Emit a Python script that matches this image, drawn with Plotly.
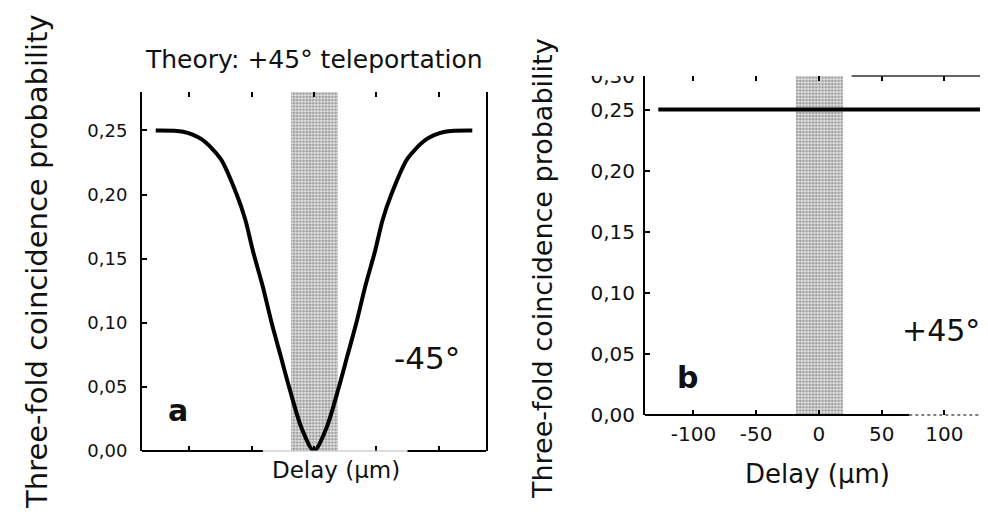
import plotly.graph_objects as go

# ---------------- data ----------------
# panel a: theory curve (-45°)
delay_a = [-127, -105, -90, -75, -62, -55, -49, -41, -34, -27, -20, -10, 0,
           10, 20, 27, 34, 41, 49, 55, 62, 75, 90, 105, 127]
prob_a = [0.25, 0.249, 0.243, 0.228, 0.20, 0.18, 0.156, 0.128, 0.10, 0.075, 0.05, 0.018, 0.0,
          0.018, 0.05, 0.075, 0.10, 0.128, 0.156, 0.18, 0.20, 0.228, 0.243, 0.249, 0.25]
# panel b: theory curve (+45°)
delay_b = [-128, 130]
prob_b = [0.25, 0.25]
# shaded band (delay range)
band = [-18.5, 19]
# ticks
ytick_vals = [0, 0.05, 0.10, 0.15, 0.20, 0.25]
ytick_text = ["0,00", "0,05", "0,10", "0,15", "0,20", "0,25"]
xtick_vals = [-100, -50, 0, 50, 100]
xtick_text = ["-100", "-50", "0", "50", "100"]

W, H = 988, 512
OFF = 8  # page body margin
FONT = "DejaVu Sans"
INK = "#111111"

def px(x):
    return (x - OFF) / W

def py(y):
    return 1 - (y - OFF) / H

xa_range = [-138, 138]
ya_range = [0, 0.28]
xb_range = [-138.6, 134.7]
yb_range = [0, 0.2775]

fig = go.Figure()

band_center = (band[0] + band[1]) / 2
band_width = band[1] - band[0]
pattern = dict(shape=".", fgcolor="#555555", size=3.2, solidity=0.5, fillmode="overlay")

fig.add_trace(go.Bar(x=[band_center], y=[ya_range[1]], width=[band_width], base=0,
                     marker=dict(color="#e0e0e0", line=dict(width=0), pattern=pattern),
                     xaxis="x", yaxis="y", showlegend=False, hoverinfo="skip"))
fig.add_trace(go.Bar(x=[band_center], y=[yb_range[1]], width=[band_width], base=0,
                     marker=dict(color="#e0e0e0", line=dict(width=0), pattern=pattern),
                     xaxis="x2", yaxis="y2", showlegend=False, hoverinfo="skip"))

fig.add_trace(go.Scatter(x=delay_a, y=prob_a, mode="lines",
                         line=dict(color="black", width=4, shape="spline", smoothing=0.8),
                         xaxis="x", yaxis="y", showlegend=False))
fig.add_trace(go.Scatter(x=delay_b, y=prob_b, mode="lines",
                         line=dict(color="black", width=4),
                         xaxis="x2", yaxis="y2", showlegend=False))

common_ax = dict(showgrid=False, zeroline=False, ticks="inside", ticklen=5, tickwidth=1.5,
                 tickcolor="black", automargin=False)

fig.update_layout(
    width=W, height=H, autosize=False,
    margin=dict(l=0, r=0, t=0, b=0, pad=0),
    paper_bgcolor="white", plot_bgcolor="white",
    font=dict(family=FONT, color=INK),
    bargap=0,
    xaxis=dict(domain=[px(142), px(486)], range=xa_range, tickvals=xtick_vals,
               showticklabels=False, showline=False, mirror="ticks", anchor="y", **common_ax),
    yaxis=dict(domain=[py(451), py(92)], range=ya_range, tickvals=ytick_vals, ticktext=ytick_text,
               tickfont=dict(size=18, family=FONT, color=INK), showline=True, linewidth=2,
               linecolor="black", mirror=True, ticklabelstandoff=9, anchor="x", **common_ax),
    xaxis2=dict(domain=[px(645), 1.0], range=[xb_range[0], xb_range[1] + OFF / 1.255],
                tickvals=xtick_vals, ticktext=xtick_text,
                tickfont=dict(size=20, family=FONT, color=INK), showline=False,
                mirror="ticks", ticklabelstandoff=5, anchor="y2", **common_ax),
    yaxis2=dict(domain=[py(415), py(76)], range=yb_range,
                tickvals=ytick_vals + [0.2772], ticktext=ytick_text + ["0,30"],
                tickfont=dict(size=20, family=FONT, color=INK), showline=True, linewidth=2,
                linecolor="black", ticklabelstandoff=4, anchor="x2", **common_ax),
)

shapes = []
# panel a bottom line with a gap (covered label area)
shapes.append(dict(type="line", xref="x", yref="y domain", x0=xa_range[0], x1=-41, y0=0, y1=0,
                   line=dict(color="black", width=2)))
shapes.append(dict(type="line", xref="x", yref="y domain", x0=-41, x1=75, y0=0, y1=0,
                   line=dict(color="#bdbdbd", width=1)))
shapes.append(dict(type="line", xref="x", yref="y domain", x0=75, x1=xa_range[1], y0=0, y1=0,
                   line=dict(color="black", width=2)))
# panel b bottom line, solid then faint
shapes.append(dict(type="line", xref="x2", yref="y2 domain", x0=xb_range[0], x1=72, y0=0, y1=0,
                   line=dict(color="black", width=2)))
shapes.append(dict(type="line", xref="x2", yref="y2 domain", x0=72, x1=xb_range[1] + 10, y0=0, y1=0,
                   line=dict(color="#555555", width=1.5, dash="dot")))
# panel b partial top line
shapes.append(dict(type="line", xref="x2", yref="y2 domain", x0=26, x1=xb_range[1] + 10, y0=1, y1=1,
                   line=dict(color="#333333", width=1.5)))
# crop the top of the "0,30" label
shapes.append(dict(type="rect", xref="paper", yref="paper", x0=px(570), x1=px(642),
                   y0=py(76), y1=1, fillcolor="white", line=dict(width=0), layer="above"))
fig.update_layout(shapes=shapes)

ann = []
def text(x, y, s, size, bold=False, angle=0):
    ann.append(dict(x=px(x), y=py(y), xref="paper", yref="paper", text=("<b>%s</b>" % s) if bold else s,
                    showarrow=False, textangle=angle, xanchor="center", yanchor="middle",
                    font=dict(size=size, family=FONT, color=INK)))

text(314, 59, "Theory: +45° teleportation", 25)
text(37, 262, "Three-fold coincidence probability", 29, angle=-90)
text(542, 269, "Three-fold coincidence probability", 27, angle=-90)
text(336, 470, "Delay (µm)", 23)
text(817, 474, "Delay (µm)", 26)
text(178, 410, "a", 30, bold=True)
text(427, 358, "-45°", 31)
text(687, 377, "b", 30, bold=True)
text(941, 330, "+45°", 30)
fig.update_layout(annotations=ann)

fig.write_html("out.html")
